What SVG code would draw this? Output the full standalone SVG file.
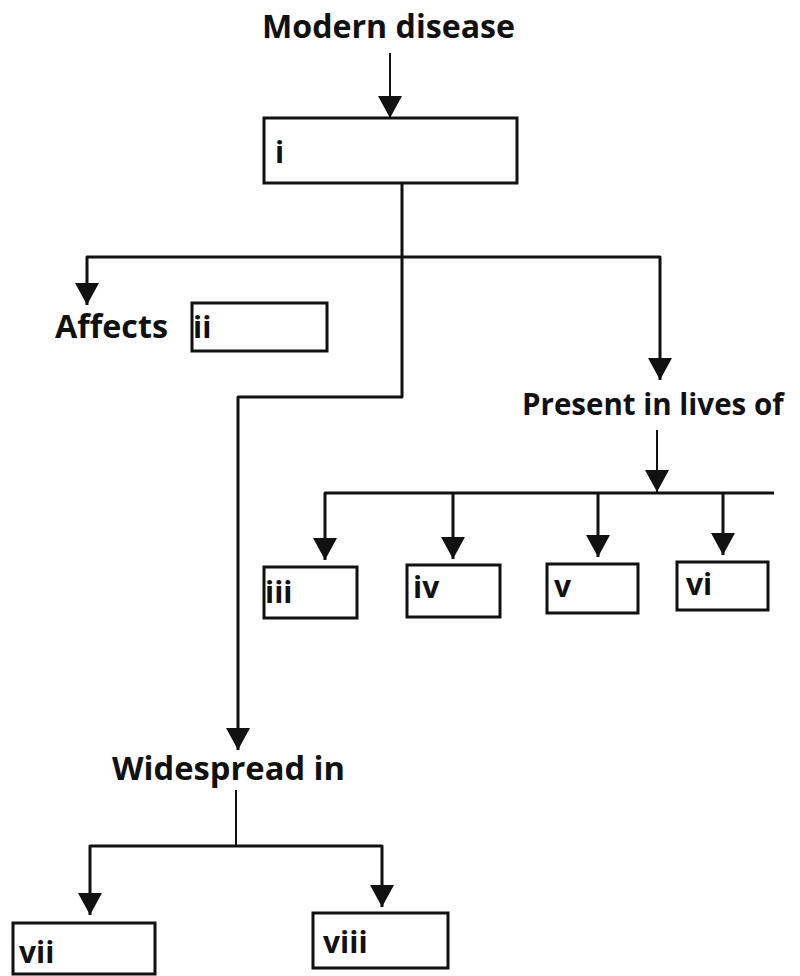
<svg xmlns="http://www.w3.org/2000/svg" width="800" height="976" viewBox="0 0 800 976">
<style>
text{font-family:"Open Sans","Noto Sans",sans-serif;font-weight:700;fill:#111}
.lbl{font-size:32px}
.bx{font-size:30px}
rect{fill:#fff;stroke:#111;stroke-width:3}
.c path{fill:none;stroke:#111;stroke-width:3;stroke-linejoin:round}
.c path.thin{stroke-width:2}
</style>
<defs>
<marker id="a" viewBox="-12 -22 24 22" refX="0" refY="0" markerWidth="24" markerHeight="22" markerUnits="userSpaceOnUse" orient="0">
<path d="M-12,-22 L12,-22 L0,0 Z" fill="#111"/>
</marker>
</defs>
<g id="modern"><text class="lbl" x="262" y="38" textLength="253" lengthAdjust="spacingAndGlyphs">Modern disease</text></g>
<g id="box-i"><rect x="264" y="118" width="253" height="65"/><text class="bx" x="275" y="163">i</text></g>
<g id="affects"><text class="lbl" x="55" y="338" textLength="113" lengthAdjust="spacingAndGlyphs">Affects</text></g>
<g id="box-ii"><rect x="192" y="303" width="135" height="48"/><text class="bx" x="193" y="338">ii</text></g>
<g id="present"><text x="522" y="415" font-size="29.5">Present in lives of</text></g>
<g id="box-iii"><rect x="264" y="567" width="93" height="51"/><text class="bx" x="265" y="603">iii</text></g>
<g id="box-iv"><rect x="407" y="565" width="93" height="52"/><text class="bx" x="413" y="598">iv</text></g>
<g id="box-v"><rect x="547" y="564" width="91" height="49"/><text class="bx" x="554" y="597">v</text></g>
<g id="box-vi"><rect x="677" y="562" width="91" height="48"/><text class="bx" x="686" y="595">vi</text></g>
<g id="widespread"><text class="lbl" x="112" y="780" textLength="233" lengthAdjust="spacingAndGlyphs">Widespread in</text></g>
<g id="box-vii"><rect x="13" y="923" width="142" height="51"/><text class="bx" x="19" y="963">vii</text></g>
<g id="box-viii"><rect x="313" y="913" width="135" height="55"/><text class="bx" x="323" y="953">viii</text></g>
<g class="c" id="connectors">
<path class="thin" d="M390,53 V118" marker-end="url(#a)"/>
<path d="M402,183 V397 H238 V750" marker-end="url(#a)"/>
<path d="M87,305 V257 H660 V380" marker-start="url(#a)" marker-end="url(#a)"/>
<path class="thin" d="M657,430 V492" marker-end="url(#a)"/>
<path d="M325,560 V493 H774" marker-start="url(#a)"/>
<path d="M453,493 V559" marker-end="url(#a)"/>
<path d="M598,493 V557" marker-end="url(#a)"/>
<path d="M723,493 V555" marker-end="url(#a)"/>
<path class="thin" d="M236,790 V846"/>
<path d="M90,915 V846 H382 V907" marker-start="url(#a)" marker-end="url(#a)"/>
</g>
</svg>
